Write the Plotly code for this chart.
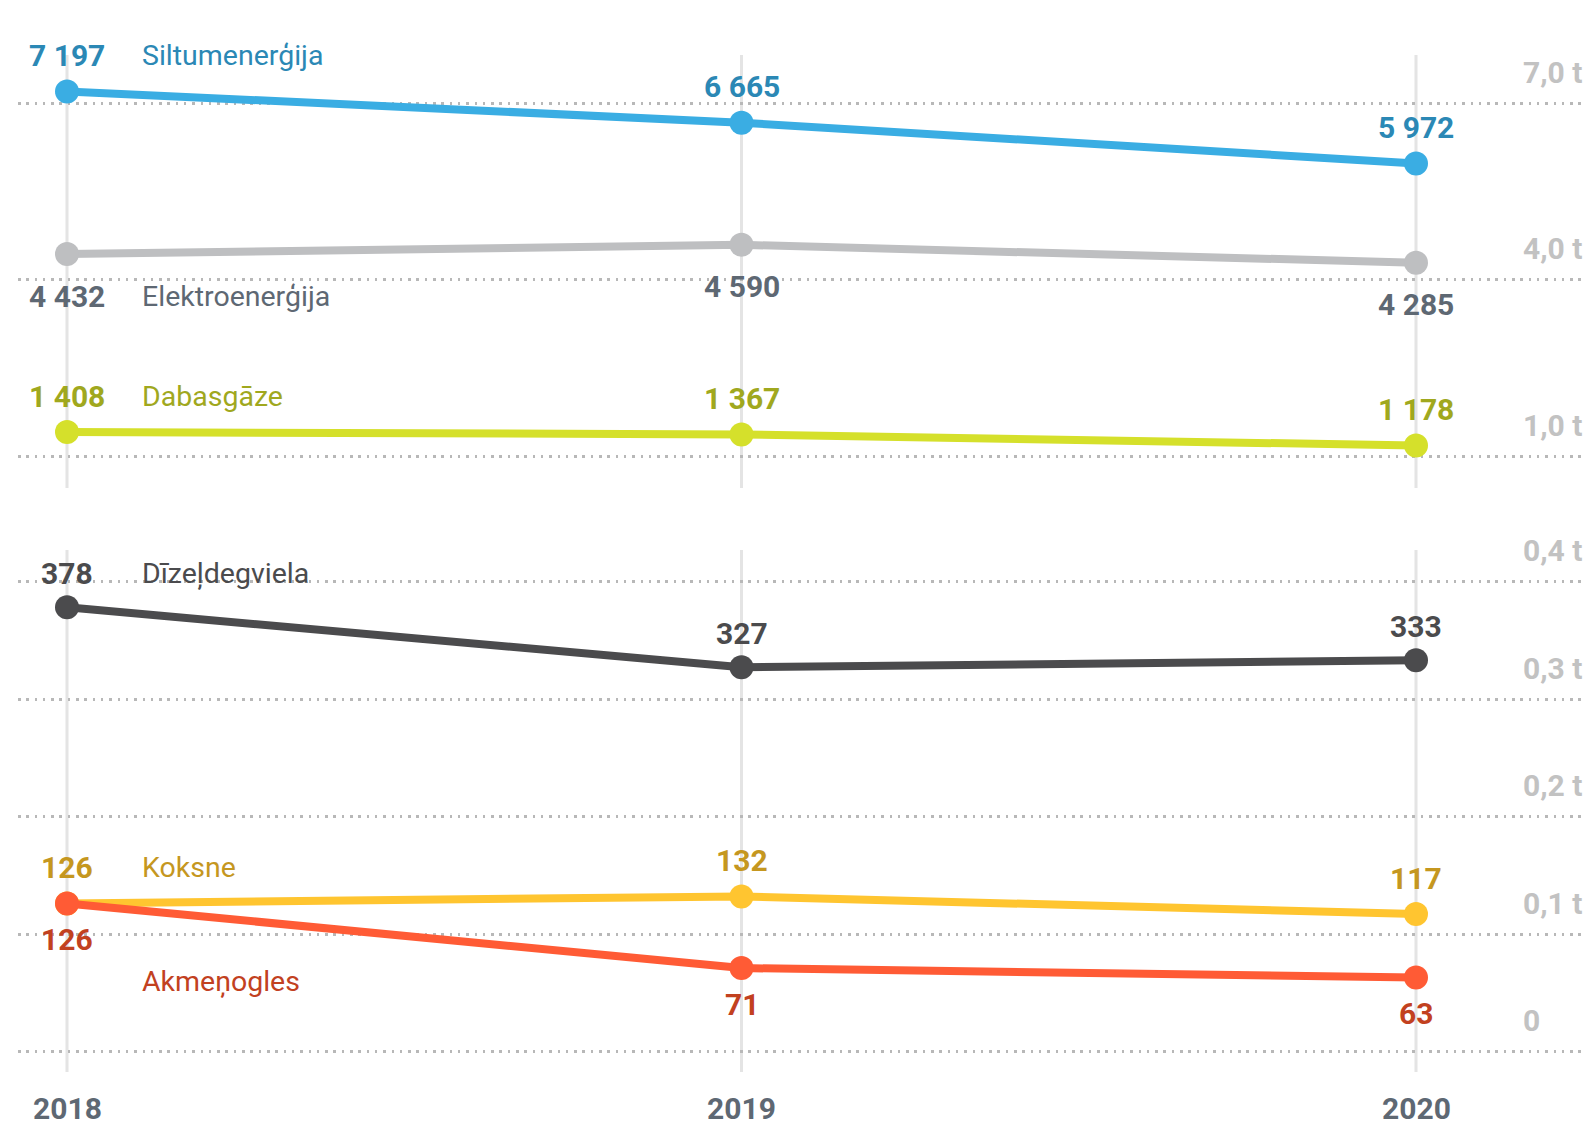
import plotly.graph_objects as go

# Per-capita energy consumption, kg per person
years = [2018, 2019, 2020]

siltumenergija = [7197, 6665, 5972]
elektroenergija = [4432, 4590, 4285]
dabasgaze = [1408, 1367, 1178]

dizeldegviela = [378, 327, 333]
koksne = [126, 132, 117]
akmenogles = [126, 71, 63]

top_ticks = [1.0, 4.0, 7.0]
top_tick_labels = ["1,0 t", "4,0 t", "7,0 t"]
bottom_ticks = [0.0, 0.1, 0.2, 0.3, 0.4]
bottom_tick_labels = ["0", "0,1 t", "0,2 t", "0,3 t", "0,4 t"]

W, H = 1593, 1126
FONT = "Roboto"

# series: name, values, axis, line colour, text colour, value-label shift, name-label shift
series = [
    ("Elektroenerģija", elektroenergija, "y", "#BEBFC1", "#5E6873", -42, -42),
    ("Siltumenerģija", siltumenergija, "y", "#3AADE3", "#2B88B5", 36, 36),
    ("Dabasgāze", dabasgaze, "y", "#D5E02B", "#A0A81E", 36, 36),
    ("Dīzeļdegviela", dizeldegviela, "y2", "#4B4B4D", "#4B4B4D", 34, 34),
    ("Koksne", koksne, "y2", "#FFC530", "#C5971F", 36, 36),
    ("Akmeņogles", akmenogles, "y2", "#FF5B35", "#C2411F", -36, -78),
]


def fmt(v):
    return f"{v:,}".replace(",", " ")


fig = go.Figure()
annotations = []

for name, vals, yax, lc, tc, vshift, nshift in series:
    tonnes = [v / 1000 for v in vals]
    fig.add_trace(go.Scatter(
        x=years, y=tonnes, yaxis=yax, mode="lines+markers",
        line=dict(color=lc, width=8),
        marker=dict(color=lc, size=24),
        hoverinfo="skip", showlegend=False,
    ))
    for x, v, t in zip(years, vals, tonnes):
        annotations.append(dict(
            x=x, y=t, xref="x", yref=yax, text=fmt(v), showarrow=False,
            xanchor="center", yanchor="middle", yshift=vshift,
            font=dict(family=FONT, size=30, color=tc, weight="bold"),
        ))
    annotations.append(dict(
        x=years[0], y=tonnes[0], xref="x", yref=yax, text=name, showarrow=False,
        xanchor="left", yanchor="middle", xshift=73, yshift=nshift,
        font=dict(family=FONT, size=28.5, color=tc),
    ))

# right-hand scale labels sit just above their dotted gridlines
for vals, labels, yax in [(top_ticks, top_tick_labels, "y"),
                          (bottom_ticks, bottom_tick_labels, "y2")]:
    for v, lab in zip(vals, labels):
        annotations.append(dict(
            x=1521 / W, y=v, xref="paper", yref=yax, text=lab, showarrow=False,
            xanchor="left", yanchor="middle", yshift=31,
            font=dict(family=FONT, size=30, color="#C2C2C2", weight="bold"),
        ))

# year labels along the bottom
for yr in years:
    annotations.append(dict(
        x=yr, y=1 - 1108 / H, xref="x", yref="paper", text=str(yr), showarrow=False,
        xanchor="center", yanchor="middle",
        font=dict(family=FONT, size=30, color="#5E6873", weight="bold"),
    ))

# light vertical guides at each year, one per panel
shapes = []
for yr in years:
    for top_px, bot_px in [(55, 488), (550, 1072)]:
        shapes.append(dict(
            type="line", xref="x", yref="paper", x0=yr, x1=yr,
            y0=1 - top_px / H, y1=1 - bot_px / H,
            line=dict(color="#E4E4E4", width=3), layer="below",
        ))

# x scale: 2018 at 67 px, 2020 at 1416 px inside a plot area spanning 18..1587 px
px_per_year = (1416 - 67) / 2
x0 = 2018 - (67 - 18) / px_per_year
x1 = x0 + (1587 - 18) / px_per_year

# top panel: 7 t at 103 px, 1 t at 456 px
top_ppu = (456 - 103) / 6
top_r1 = 4 + 279.5 / top_ppu
top_r0 = 4 - (H - 279.5) / top_ppu
# bottom panel: 0.4 t at 581.5 px, 0 at 1051.5 px
bot_ppu = (1051.5 - 581.5) / 0.4
bot_r1 = 0.4 + 581.5 / bot_ppu
bot_r0 = -(H - 1051.5) / bot_ppu

grid = dict(showgrid=True, gridcolor="#B8B8B8", gridwidth=2.5, griddash="2.5px,5.8px",
            zeroline=False, showticklabels=False, ticks="", showline=False,
            fixedrange=True)

fig.update_layout(
    width=W, height=H,
    margin=dict(l=0, r=0, t=0, b=0),
    paper_bgcolor="white", plot_bgcolor="white",
    xaxis=dict(domain=[18 / W, 1587 / W], range=[x0, x1], showgrid=False,
               zeroline=False, showticklabels=False, showline=False, ticks=""),
    yaxis=dict(domain=[0, 1], range=[top_r0, top_r1], tickvals=top_ticks, **grid),
    yaxis2=dict(domain=[0, 1], range=[bot_r0, bot_r1], tickvals=bottom_ticks,
                overlaying="y", **grid),
    annotations=annotations,
    shapes=shapes,
    font=dict(family=FONT),
)

fig.write_html("out.html")
